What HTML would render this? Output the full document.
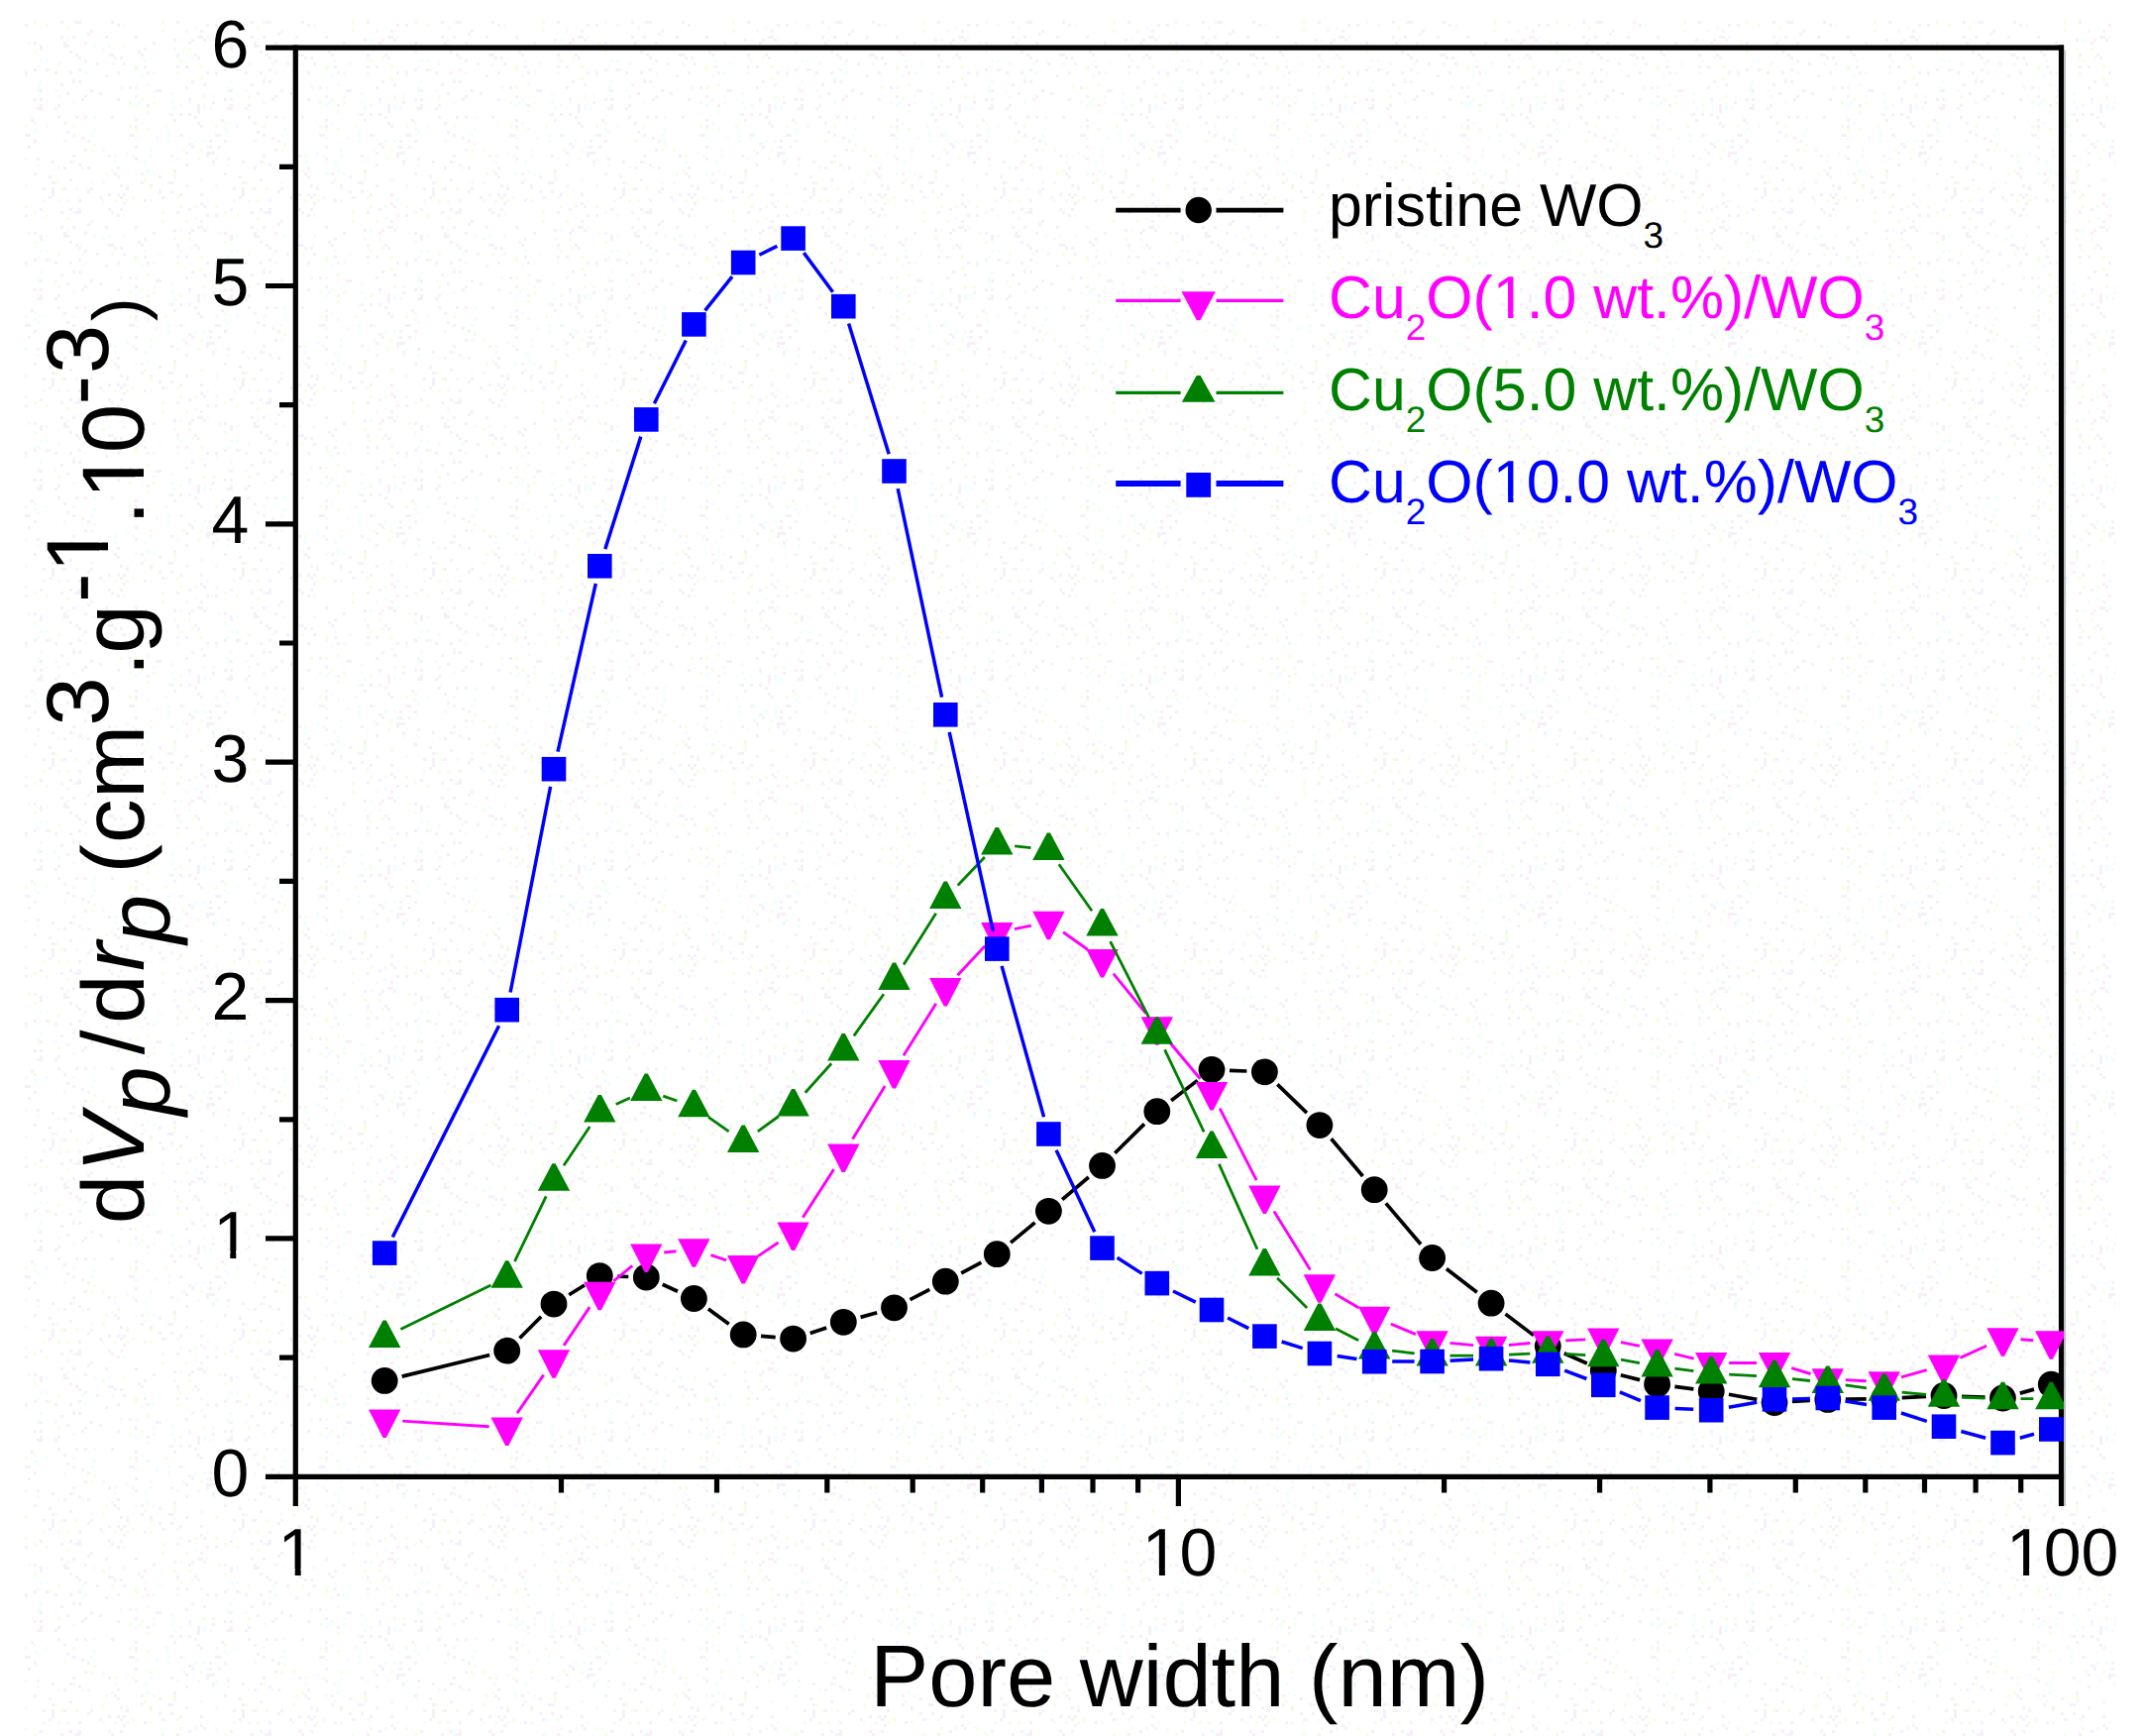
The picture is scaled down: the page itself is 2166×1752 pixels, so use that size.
<!DOCTYPE html>
<html><head><meta charset="utf-8"><title>Pore size distribution</title>
<style>html,body{margin:0;padding:0;background:#fff;width:2166px;height:1752px;overflow:hidden}</style>
</head><body>
<svg width="2166" height="1752" viewBox="0 0 2166 1752" style="display:block;position:absolute;left:0;top:0" font-family="'Liberation Sans', sans-serif" text-rendering="geometricPrecision">
<rect width="2166" height="1752" fill="#fff"/>
<defs><pattern id="dz" width="192" height="192" patternUnits="userSpaceOnUse" x="25" y="21"><rect x="9" y="0" width="3" height="3" fill="#f4ffe4"/><rect x="36" y="0" width="3" height="3" fill="#f7f0f7"/><rect x="48" y="0" width="3" height="3" fill="#eeffff"/><rect x="51" y="0" width="3" height="3" fill="#f7f0f7"/><rect x="54" y="0" width="3" height="3" fill="#f7f0f7"/><rect x="87" y="0" width="3" height="3" fill="#f7f0f7"/><rect x="138" y="0" width="3" height="3" fill="#f4ffe4"/><rect x="153" y="0" width="3" height="3" fill="#f7f0f7"/><rect x="0" y="3" width="3" height="3" fill="#f7f0f7"/><rect x="21" y="3" width="3" height="3" fill="#f4ffe4"/><rect x="93" y="3" width="3" height="3" fill="#f7f0f7"/><rect x="99" y="3" width="3" height="3" fill="#eeffff"/><rect x="183" y="3" width="3" height="3" fill="#f7f0f7"/><rect x="42" y="6" width="3" height="3" fill="#f4ffe4"/><rect x="171" y="6" width="3" height="3" fill="#eeffff"/><rect x="66" y="9" width="3" height="3" fill="#f7f0f7"/><rect x="138" y="9" width="3" height="3" fill="#f4ffe4"/><rect x="162" y="9" width="3" height="3" fill="#f4ffe4"/><rect x="177" y="9" width="3" height="3" fill="#f7f0f7"/><rect x="63" y="12" width="3" height="3" fill="#f7f0f7"/><rect x="36" y="15" width="3" height="3" fill="#f7f0f7"/><rect x="48" y="15" width="3" height="3" fill="#f7f0f7"/><rect x="81" y="15" width="3" height="3" fill="#f7f0f7"/><rect x="111" y="15" width="3" height="3" fill="#f7f0f7"/><rect x="174" y="15" width="3" height="3" fill="#f7f0f7"/><rect x="177" y="15" width="3" height="3" fill="#f7f0f7"/><rect x="183" y="15" width="3" height="3" fill="#eeffff"/><rect x="42" y="18" width="3" height="3" fill="#eeffff"/><rect x="150" y="18" width="3" height="3" fill="#f7f0f7"/><rect x="156" y="18" width="3" height="3" fill="#eeffff"/><rect x="168" y="18" width="3" height="3" fill="#f7f0f7"/><rect x="180" y="18" width="3" height="3" fill="#f7f0f7"/><rect x="3" y="21" width="3" height="3" fill="#f4ffe4"/><rect x="9" y="21" width="3" height="3" fill="#f7f0f7"/><rect x="39" y="21" width="3" height="3" fill="#f7f0f7"/><rect x="60" y="21" width="3" height="3" fill="#f7f0f7"/><rect x="129" y="21" width="3" height="3" fill="#f7f0f7"/><rect x="165" y="21" width="3" height="3" fill="#f7f0f7"/><rect x="15" y="24" width="3" height="3" fill="#f7f0f7"/><rect x="21" y="24" width="3" height="3" fill="#eeffff"/><rect x="39" y="24" width="3" height="3" fill="#f7f0f7"/><rect x="42" y="24" width="3" height="3" fill="#f7f0f7"/><rect x="69" y="24" width="3" height="3" fill="#eeffff"/><rect x="84" y="24" width="3" height="3" fill="#eeffff"/><rect x="99" y="24" width="3" height="3" fill="#f4ffe4"/><rect x="15" y="27" width="3" height="3" fill="#f7f0f7"/><rect x="78" y="27" width="3" height="3" fill="#f4ffe4"/><rect x="120" y="27" width="3" height="3" fill="#f7f0f7"/><rect x="150" y="27" width="3" height="3" fill="#f4ffe4"/><rect x="165" y="27" width="3" height="3" fill="#f4ffe4"/><rect x="9" y="30" width="3" height="3" fill="#f4ffe4"/><rect x="45" y="30" width="3" height="3" fill="#f7f0f7"/><rect x="114" y="30" width="3" height="3" fill="#f7f0f7"/><rect x="51" y="33" width="3" height="3" fill="#f7f0f7"/><rect x="84" y="33" width="3" height="3" fill="#f7f0f7"/><rect x="87" y="33" width="3" height="3" fill="#f7f0f7"/><rect x="117" y="33" width="3" height="3" fill="#f7f0f7"/><rect x="153" y="33" width="3" height="3" fill="#f7f0f7"/><rect x="171" y="33" width="3" height="3" fill="#f7f0f7"/><rect x="54" y="36" width="3" height="3" fill="#f7f0f7"/><rect x="90" y="36" width="3" height="3" fill="#f7f0f7"/><rect x="96" y="36" width="3" height="3" fill="#f7f0f7"/><rect x="153" y="36" width="3" height="3" fill="#eeffff"/><rect x="168" y="36" width="3" height="3" fill="#f4ffe4"/><rect x="174" y="36" width="3" height="3" fill="#f7f0f7"/><rect x="15" y="39" width="3" height="3" fill="#eeffff"/><rect x="21" y="39" width="3" height="3" fill="#eeffff"/><rect x="60" y="39" width="3" height="3" fill="#f7f0f7"/><rect x="120" y="39" width="3" height="3" fill="#eeffff"/><rect x="156" y="39" width="3" height="3" fill="#f4ffe4"/><rect x="33" y="42" width="3" height="3" fill="#f4ffe4"/><rect x="57" y="42" width="3" height="3" fill="#eeffff"/><rect x="72" y="42" width="3" height="3" fill="#f7f0f7"/><rect x="87" y="42" width="3" height="3" fill="#f4ffe4"/><rect x="99" y="42" width="3" height="3" fill="#f7f0f7"/><rect x="135" y="42" width="3" height="3" fill="#eeffff"/><rect x="12" y="45" width="3" height="3" fill="#eeffff"/><rect x="111" y="45" width="3" height="3" fill="#f4ffe4"/><rect x="120" y="45" width="3" height="3" fill="#f7f0f7"/><rect x="153" y="45" width="3" height="3" fill="#f7f0f7"/><rect x="162" y="45" width="3" height="3" fill="#f7f0f7"/><rect x="177" y="45" width="3" height="3" fill="#f4ffe4"/><rect x="9" y="48" width="3" height="3" fill="#f7f0f7"/><rect x="21" y="48" width="3" height="3" fill="#f7f0f7"/><rect x="24" y="48" width="3" height="3" fill="#f4ffe4"/><rect x="54" y="48" width="3" height="3" fill="#f7f0f7"/><rect x="111" y="48" width="3" height="3" fill="#f4ffe4"/><rect x="0" y="51" width="3" height="3" fill="#f7f0f7"/><rect x="30" y="51" width="3" height="3" fill="#f7f0f7"/><rect x="45" y="51" width="3" height="3" fill="#f7f0f7"/><rect x="60" y="51" width="3" height="3" fill="#eeffff"/><rect x="93" y="51" width="3" height="3" fill="#f7f0f7"/><rect x="123" y="51" width="3" height="3" fill="#f7f0f7"/><rect x="129" y="51" width="3" height="3" fill="#eeffff"/><rect x="153" y="51" width="3" height="3" fill="#f4ffe4"/><rect x="183" y="51" width="3" height="3" fill="#f7f0f7"/><rect x="0" y="54" width="3" height="3" fill="#eeffff"/><rect x="81" y="54" width="3" height="3" fill="#f7f0f7"/><rect x="117" y="54" width="3" height="3" fill="#eeffff"/><rect x="48" y="57" width="3" height="3" fill="#eeffff"/><rect x="177" y="57" width="3" height="3" fill="#f4ffe4"/><rect x="15" y="60" width="3" height="3" fill="#eeffff"/><rect x="48" y="60" width="3" height="3" fill="#f7f0f7"/><rect x="54" y="60" width="3" height="3" fill="#f7f0f7"/><rect x="168" y="60" width="3" height="3" fill="#f7f0f7"/><rect x="36" y="63" width="3" height="3" fill="#f7f0f7"/><rect x="123" y="63" width="3" height="3" fill="#f4ffe4"/><rect x="180" y="63" width="3" height="3" fill="#f7f0f7"/><rect x="12" y="66" width="3" height="3" fill="#eeffff"/><rect x="96" y="66" width="3" height="3" fill="#f4ffe4"/><rect x="105" y="66" width="3" height="3" fill="#f7f0f7"/><rect x="111" y="66" width="3" height="3" fill="#f4ffe4"/><rect x="162" y="66" width="3" height="3" fill="#f7f0f7"/><rect x="12" y="69" width="3" height="3" fill="#f4ffe4"/><rect x="15" y="69" width="3" height="3" fill="#f7f0f7"/><rect x="30" y="69" width="3" height="3" fill="#eeffff"/><rect x="66" y="69" width="3" height="3" fill="#f7f0f7"/><rect x="132" y="69" width="3" height="3" fill="#f7f0f7"/><rect x="135" y="69" width="3" height="3" fill="#f7f0f7"/><rect x="42" y="72" width="3" height="3" fill="#f7f0f7"/><rect x="75" y="72" width="3" height="3" fill="#f7f0f7"/><rect x="147" y="72" width="3" height="3" fill="#eeffff"/><rect x="33" y="75" width="3" height="3" fill="#f4ffe4"/><rect x="60" y="75" width="3" height="3" fill="#f7f0f7"/><rect x="111" y="75" width="3" height="3" fill="#f7f0f7"/><rect x="129" y="75" width="3" height="3" fill="#eeffff"/><rect x="180" y="75" width="3" height="3" fill="#f4ffe4"/><rect x="189" y="75" width="3" height="3" fill="#f4ffe4"/><rect x="9" y="78" width="3" height="3" fill="#f7f0f7"/><rect x="15" y="78" width="3" height="3" fill="#f7f0f7"/><rect x="57" y="78" width="3" height="3" fill="#f7f0f7"/><rect x="93" y="78" width="3" height="3" fill="#f7f0f7"/><rect x="117" y="78" width="3" height="3" fill="#f4ffe4"/><rect x="165" y="78" width="3" height="3" fill="#f7f0f7"/><rect x="48" y="81" width="3" height="3" fill="#eeffff"/><rect x="105" y="81" width="3" height="3" fill="#f4ffe4"/><rect x="114" y="81" width="3" height="3" fill="#eeffff"/><rect x="129" y="81" width="3" height="3" fill="#f4ffe4"/><rect x="147" y="81" width="3" height="3" fill="#eeffff"/><rect x="165" y="81" width="3" height="3" fill="#eeffff"/><rect x="189" y="81" width="3" height="3" fill="#f7f0f7"/><rect x="15" y="84" width="3" height="3" fill="#f7f0f7"/><rect x="33" y="84" width="3" height="3" fill="#f7f0f7"/><rect x="111" y="84" width="3" height="3" fill="#eeffff"/><rect x="123" y="84" width="3" height="3" fill="#f7f0f7"/><rect x="156" y="84" width="3" height="3" fill="#f4ffe4"/><rect x="174" y="84" width="3" height="3" fill="#f7f0f7"/><rect x="180" y="84" width="3" height="3" fill="#eeffff"/><rect x="12" y="87" width="3" height="3" fill="#f7f0f7"/><rect x="15" y="87" width="3" height="3" fill="#f7f0f7"/><rect x="30" y="87" width="3" height="3" fill="#f7f0f7"/><rect x="150" y="87" width="3" height="3" fill="#eeffff"/><rect x="174" y="87" width="3" height="3" fill="#f7f0f7"/><rect x="180" y="87" width="3" height="3" fill="#eeffff"/><rect x="186" y="87" width="3" height="3" fill="#eeffff"/><rect x="123" y="90" width="3" height="3" fill="#f4ffe4"/><rect x="174" y="90" width="3" height="3" fill="#f7f0f7"/><rect x="144" y="93" width="3" height="3" fill="#eeffff"/><rect x="147" y="93" width="3" height="3" fill="#f7f0f7"/><rect x="156" y="93" width="3" height="3" fill="#f7f0f7"/><rect x="165" y="93" width="3" height="3" fill="#f7f0f7"/><rect x="33" y="96" width="3" height="3" fill="#f7f0f7"/><rect x="51" y="96" width="3" height="3" fill="#f7f0f7"/><rect x="60" y="96" width="3" height="3" fill="#f7f0f7"/><rect x="69" y="96" width="3" height="3" fill="#eeffff"/><rect x="87" y="96" width="3" height="3" fill="#f7f0f7"/><rect x="171" y="96" width="3" height="3" fill="#f7f0f7"/><rect x="6" y="99" width="3" height="3" fill="#f7f0f7"/><rect x="111" y="99" width="3" height="3" fill="#f7f0f7"/><rect x="150" y="99" width="3" height="3" fill="#f7f0f7"/><rect x="9" y="102" width="3" height="3" fill="#f4ffe4"/><rect x="39" y="102" width="3" height="3" fill="#f7f0f7"/><rect x="117" y="102" width="3" height="3" fill="#eeffff"/><rect x="174" y="102" width="3" height="3" fill="#f7f0f7"/><rect x="0" y="105" width="3" height="3" fill="#f4ffe4"/><rect x="21" y="105" width="3" height="3" fill="#eeffff"/><rect x="48" y="105" width="3" height="3" fill="#f4ffe4"/><rect x="105" y="105" width="3" height="3" fill="#f4ffe4"/><rect x="111" y="105" width="3" height="3" fill="#f7f0f7"/><rect x="141" y="105" width="3" height="3" fill="#f4ffe4"/><rect x="177" y="105" width="3" height="3" fill="#f7f0f7"/><rect x="9" y="108" width="3" height="3" fill="#eeffff"/><rect x="69" y="108" width="3" height="3" fill="#eeffff"/><rect x="111" y="108" width="3" height="3" fill="#f4ffe4"/><rect x="123" y="108" width="3" height="3" fill="#f4ffe4"/><rect x="12" y="111" width="3" height="3" fill="#eeffff"/><rect x="42" y="111" width="3" height="3" fill="#f7f0f7"/><rect x="0" y="114" width="3" height="3" fill="#f7f0f7"/><rect x="3" y="114" width="3" height="3" fill="#f7f0f7"/><rect x="48" y="114" width="3" height="3" fill="#f7f0f7"/><rect x="66" y="114" width="3" height="3" fill="#eeffff"/><rect x="105" y="114" width="3" height="3" fill="#f7f0f7"/><rect x="108" y="114" width="3" height="3" fill="#f7f0f7"/><rect x="144" y="114" width="3" height="3" fill="#eeffff"/><rect x="156" y="114" width="3" height="3" fill="#f7f0f7"/><rect x="159" y="114" width="3" height="3" fill="#eeffff"/><rect x="57" y="117" width="3" height="3" fill="#f7f0f7"/><rect x="111" y="117" width="3" height="3" fill="#eeffff"/><rect x="132" y="117" width="3" height="3" fill="#eeffff"/><rect x="9" y="120" width="3" height="3" fill="#f7f0f7"/><rect x="39" y="120" width="3" height="3" fill="#f4ffe4"/><rect x="63" y="120" width="3" height="3" fill="#f7f0f7"/><rect x="144" y="120" width="3" height="3" fill="#eeffff"/><rect x="171" y="120" width="3" height="3" fill="#eeffff"/><rect x="180" y="120" width="3" height="3" fill="#eeffff"/><rect x="186" y="120" width="3" height="3" fill="#f7f0f7"/><rect x="69" y="123" width="3" height="3" fill="#f4ffe4"/><rect x="165" y="123" width="3" height="3" fill="#f7f0f7"/><rect x="168" y="123" width="3" height="3" fill="#eeffff"/><rect x="3" y="126" width="3" height="3" fill="#f7f0f7"/><rect x="111" y="126" width="3" height="3" fill="#f7f0f7"/><rect x="168" y="126" width="3" height="3" fill="#f7f0f7"/><rect x="183" y="126" width="3" height="3" fill="#eeffff"/><rect x="186" y="126" width="3" height="3" fill="#f7f0f7"/><rect x="60" y="129" width="3" height="3" fill="#f7f0f7"/><rect x="66" y="129" width="3" height="3" fill="#f4ffe4"/><rect x="78" y="129" width="3" height="3" fill="#f4ffe4"/><rect x="126" y="129" width="3" height="3" fill="#f4ffe4"/><rect x="159" y="129" width="3" height="3" fill="#f4ffe4"/><rect x="177" y="129" width="3" height="3" fill="#f4ffe4"/><rect x="102" y="132" width="3" height="3" fill="#eeffff"/><rect x="162" y="132" width="3" height="3" fill="#f7f0f7"/><rect x="183" y="132" width="3" height="3" fill="#f7f0f7"/><rect x="186" y="132" width="3" height="3" fill="#f7f0f7"/><rect x="189" y="132" width="3" height="3" fill="#f7f0f7"/><rect x="48" y="135" width="3" height="3" fill="#f7f0f7"/><rect x="84" y="135" width="3" height="3" fill="#f7f0f7"/><rect x="90" y="135" width="3" height="3" fill="#f4ffe4"/><rect x="108" y="135" width="3" height="3" fill="#f4ffe4"/><rect x="126" y="135" width="3" height="3" fill="#eeffff"/><rect x="147" y="135" width="3" height="3" fill="#f7f0f7"/><rect x="183" y="135" width="3" height="3" fill="#f7f0f7"/><rect x="0" y="138" width="3" height="3" fill="#eeffff"/><rect x="12" y="138" width="3" height="3" fill="#f7f0f7"/><rect x="111" y="138" width="3" height="3" fill="#f7f0f7"/><rect x="153" y="138" width="3" height="3" fill="#eeffff"/><rect x="174" y="138" width="3" height="3" fill="#f4ffe4"/><rect x="27" y="141" width="3" height="3" fill="#f7f0f7"/><rect x="45" y="141" width="3" height="3" fill="#f7f0f7"/><rect x="48" y="141" width="3" height="3" fill="#f4ffe4"/><rect x="90" y="141" width="3" height="3" fill="#eeffff"/><rect x="120" y="141" width="3" height="3" fill="#eeffff"/><rect x="189" y="141" width="3" height="3" fill="#f7f0f7"/><rect x="12" y="144" width="3" height="3" fill="#eeffff"/><rect x="54" y="144" width="3" height="3" fill="#f7f0f7"/><rect x="162" y="144" width="3" height="3" fill="#f7f0f7"/><rect x="189" y="144" width="3" height="3" fill="#eeffff"/><rect x="33" y="147" width="3" height="3" fill="#eeffff"/><rect x="39" y="147" width="3" height="3" fill="#f7f0f7"/><rect x="57" y="147" width="3" height="3" fill="#eeffff"/><rect x="63" y="147" width="3" height="3" fill="#f7f0f7"/><rect x="93" y="147" width="3" height="3" fill="#f7f0f7"/><rect x="87" y="150" width="3" height="3" fill="#f4ffe4"/><rect x="123" y="150" width="3" height="3" fill="#eeffff"/><rect x="150" y="150" width="3" height="3" fill="#f7f0f7"/><rect x="9" y="153" width="3" height="3" fill="#f7f0f7"/><rect x="81" y="153" width="3" height="3" fill="#f4ffe4"/><rect x="90" y="153" width="3" height="3" fill="#f7f0f7"/><rect x="111" y="153" width="3" height="3" fill="#eeffff"/><rect x="117" y="153" width="3" height="3" fill="#f7f0f7"/><rect x="129" y="153" width="3" height="3" fill="#eeffff"/><rect x="150" y="153" width="3" height="3" fill="#f4ffe4"/><rect x="24" y="156" width="3" height="3" fill="#f7f0f7"/><rect x="93" y="156" width="3" height="3" fill="#f7f0f7"/><rect x="135" y="156" width="3" height="3" fill="#f7f0f7"/><rect x="150" y="156" width="3" height="3" fill="#f4ffe4"/><rect x="45" y="159" width="3" height="3" fill="#f7f0f7"/><rect x="120" y="159" width="3" height="3" fill="#f4ffe4"/><rect x="150" y="159" width="3" height="3" fill="#eeffff"/><rect x="177" y="159" width="3" height="3" fill="#f4ffe4"/><rect x="27" y="162" width="3" height="3" fill="#f7f0f7"/><rect x="30" y="162" width="3" height="3" fill="#f4ffe4"/><rect x="66" y="162" width="3" height="3" fill="#eeffff"/><rect x="78" y="162" width="3" height="3" fill="#f4ffe4"/><rect x="117" y="162" width="3" height="3" fill="#f7f0f7"/><rect x="144" y="162" width="3" height="3" fill="#f7f0f7"/><rect x="147" y="162" width="3" height="3" fill="#f7f0f7"/><rect x="0" y="165" width="3" height="3" fill="#f4ffe4"/><rect x="96" y="165" width="3" height="3" fill="#f7f0f7"/><rect x="102" y="165" width="3" height="3" fill="#f4ffe4"/><rect x="126" y="165" width="3" height="3" fill="#f7f0f7"/><rect x="162" y="165" width="3" height="3" fill="#f7f0f7"/><rect x="18" y="168" width="3" height="3" fill="#f7f0f7"/><rect x="27" y="168" width="3" height="3" fill="#f7f0f7"/><rect x="36" y="168" width="3" height="3" fill="#f4ffe4"/><rect x="39" y="168" width="3" height="3" fill="#f7f0f7"/><rect x="51" y="168" width="3" height="3" fill="#f4ffe4"/><rect x="66" y="168" width="3" height="3" fill="#f7f0f7"/><rect x="102" y="168" width="3" height="3" fill="#f7f0f7"/><rect x="126" y="168" width="3" height="3" fill="#f4ffe4"/><rect x="27" y="171" width="3" height="3" fill="#f7f0f7"/><rect x="63" y="171" width="3" height="3" fill="#f7f0f7"/><rect x="135" y="171" width="3" height="3" fill="#f7f0f7"/><rect x="147" y="171" width="3" height="3" fill="#f7f0f7"/><rect x="27" y="174" width="3" height="3" fill="#f7f0f7"/><rect x="84" y="174" width="3" height="3" fill="#f7f0f7"/><rect x="93" y="174" width="3" height="3" fill="#f7f0f7"/><rect x="99" y="174" width="3" height="3" fill="#f7f0f7"/><rect x="156" y="174" width="3" height="3" fill="#f7f0f7"/><rect x="177" y="174" width="3" height="3" fill="#f7f0f7"/><rect x="24" y="177" width="3" height="3" fill="#f7f0f7"/><rect x="75" y="177" width="3" height="3" fill="#f7f0f7"/><rect x="96" y="177" width="3" height="3" fill="#f7f0f7"/><rect x="108" y="177" width="3" height="3" fill="#f4ffe4"/><rect x="138" y="177" width="3" height="3" fill="#f7f0f7"/><rect x="141" y="177" width="3" height="3" fill="#eeffff"/><rect x="153" y="177" width="3" height="3" fill="#f4ffe4"/><rect x="18" y="180" width="3" height="3" fill="#f4ffe4"/><rect x="33" y="180" width="3" height="3" fill="#f4ffe4"/><rect x="42" y="180" width="3" height="3" fill="#f4ffe4"/><rect x="54" y="180" width="3" height="3" fill="#f7f0f7"/><rect x="78" y="180" width="3" height="3" fill="#eeffff"/><rect x="90" y="180" width="3" height="3" fill="#f4ffe4"/><rect x="102" y="180" width="3" height="3" fill="#f4ffe4"/><rect x="120" y="180" width="3" height="3" fill="#f7f0f7"/><rect x="126" y="180" width="3" height="3" fill="#f4ffe4"/><rect x="183" y="180" width="3" height="3" fill="#eeffff"/><rect x="99" y="183" width="3" height="3" fill="#f7f0f7"/><rect x="177" y="183" width="3" height="3" fill="#f7f0f7"/><rect x="0" y="186" width="3" height="3" fill="#f4ffe4"/><rect x="156" y="186" width="3" height="3" fill="#f4ffe4"/><rect x="171" y="186" width="3" height="3" fill="#f4ffe4"/><rect x="180" y="186" width="3" height="3" fill="#f7f0f7"/><rect x="15" y="189" width="3" height="3" fill="#f7f0f7"/><rect x="45" y="189" width="3" height="3" fill="#f7f0f7"/><rect x="54" y="189" width="3" height="3" fill="#f7f0f7"/><rect x="84" y="189" width="3" height="3" fill="#f7f0f7"/><rect x="96" y="189" width="3" height="3" fill="#f7f0f7"/><rect x="165" y="189" width="3" height="3" fill="#f7f0f7"/></pattern></defs>
<rect x="25" y="21" width="2110" height="1731" fill="url(#dz)"/>
<g stroke="#000" stroke-width="5.2" fill="none" stroke-linecap="butt">
<path d="M268 48.1H2083.1"/>
<path d="M268 1490.3H2083.1"/>
<path d="M298.3 45.5V1520"/>
<path d="M2080.5 45.5V1520"/>
<path d="M2084.1 50.7V1520" stroke="#8e959c" stroke-width="2" stroke-opacity="0.55"/>
<path d="M282 168.3H298.3M268 288.5H298.3M282 408.7H298.3M268 528.8H298.3M282 649.0H298.3M268 769.2H298.3M282 889.4H298.3M268 1009.6H298.3M282 1129.8H298.3M268 1249.9H298.3M282 1370.1H298.3"/>
<path d="M566.5 1490.3V1506.5M723.5 1490.3V1506.5M834.8 1490.3V1506.5M921.2 1490.3V1506.5M991.7 1490.3V1506.5M1051.4 1490.3V1506.5M1103.0 1490.3V1506.5M1148.6 1490.3V1506.5M1457.6 1490.3V1506.5M1614.6 1490.3V1506.5M1725.9 1490.3V1506.5M1812.3 1490.3V1506.5M1882.8 1490.3V1506.5M1942.5 1490.3V1506.5M1994.1 1490.3V1506.5M2039.7 1490.3V1506.5M1189.4 1490.3V1520"/>
</g>
<g font-size="68" fill="#000">
<g transform="translate(251.3 67.7) scale(1 1.0)"><text text-anchor="end">6</text></g>
<g transform="translate(251.3 308.1) scale(1 1.0)"><text text-anchor="end">5</text></g>
<g transform="translate(251.3 548.4) scale(1 1.0)"><text text-anchor="end">4</text></g>
<g transform="translate(251.3 788.8) scale(1 1.0)"><text text-anchor="end">3</text></g>
<g transform="translate(251.3 1029.2) scale(1 1.0)"><text text-anchor="end">2</text></g>
<g transform="translate(253.0 1269.5) scale(1 1.0)"><text text-anchor="end">1</text><rect x="-34.13" y="-7.08" width="13.42" height="8.58" fill="#fff"/><rect x="-14.70" y="-7.08" width="12.89" height="8.58" fill="#fff"/></g>
<g transform="translate(251.3 1509.9) scale(1 1.0)"><text text-anchor="end">0</text></g>
<g transform="translate(299.5 1590.3) scale(1 1.0)"><text text-anchor="middle">1</text><rect x="-15.22" y="-7.08" width="13.42" height="8.58" fill="#fff"/><rect x="4.21" y="-7.08" width="12.89" height="8.58" fill="#fff"/></g>
<g transform="translate(1190.6 1590.3) scale(1 1.0)"><text text-anchor="middle">10</text><rect x="-34.13" y="-7.08" width="13.42" height="8.58" fill="#fff"/><rect x="-14.70" y="-7.08" width="12.89" height="8.58" fill="#fff"/></g>
<g transform="translate(2081.7 1590.3) scale(1 1.0)"><text text-anchor="middle">100</text><rect x="-53.03" y="-7.08" width="13.42" height="8.58" fill="#fff"/><rect x="-33.60" y="-7.08" width="12.89" height="8.58" fill="#fff"/></g>
</g>
<text x="1190.6" y="1722.3" font-size="88.5" text-anchor="middle" fill="#000">Pore width (nm)</text>
<g font-size="89" fill="#000" text-anchor="middle">
<g transform="translate(145.0 1210.4) rotate(-90)"><text>d</text></g>
<g transform="translate(145.0 1153.4) rotate(-90)"><text font-style="italic">V</text></g>
<g transform="translate(171.0 1100.9) rotate(-90)"><text font-style="italic">p</text></g>
<g transform="translate(145.0 1051.8) rotate(-90)"><text>/</text></g>
<g transform="translate(145.0 1008.3) rotate(-90)"><text>d</text></g>
<g transform="translate(145.0 965.2) rotate(-90)"><text font-style="italic">r</text></g>
<g transform="translate(171.0 927.6) rotate(-90)"><text font-style="italic">p</text></g>
<g transform="translate(145.0 866.8) rotate(-90)"><text>(</text></g>
<g transform="translate(145.0 828.7) rotate(-90)"><text>c</text></g>
<g transform="translate(145.0 769.0) rotate(-90)"><text>m</text></g>
<g transform="translate(109.4 708.0) rotate(-90)"><text>3</text></g>
<g transform="translate(145.0 670.2) rotate(-90)"><text>.</text></g>
<g transform="translate(145.0 635.0) rotate(-90)"><text>g</text></g>
<g transform="translate(109.4 593.3) rotate(-90)"><text>-</text></g>
<g transform="translate(109.4 553.0) rotate(-90)"><text>1</text><rect x="-19.46" y="-8.65" width="17.10" height="10.15" fill="#fff"/><rect x="5.50" y="-8.65" width="16.41" height="10.15" fill="#fff"/></g>
<g transform="translate(145.0 517.6) rotate(-90)"><text>.</text></g>
<g transform="translate(145.0 478.7) rotate(-90)"><text>1</text><rect x="-19.46" y="-8.65" width="17.10" height="10.15" fill="#fff"/><rect x="5.50" y="-8.65" width="16.41" height="10.15" fill="#fff"/></g>
<g transform="translate(145.0 432.4) rotate(-90)"><text>0</text></g>
<g transform="translate(109.4 393.6) rotate(-90)"><text>-</text></g>
<g transform="translate(109.4 352.4) rotate(-90)"><text>3</text></g>
<g transform="translate(144 312.3) rotate(-90)"><text font-size="72">)</text></g>
</g>
<clipPath id="pc"><rect x="295.7" y="45.5" width="1787.3999999999999" height="1447.4"/></clipPath>
<g clip-path="url(#pc)">
<path d="M405.7 1389.1L494.2 1367.5M524.5 1350.5L546.2 1328.8M574.3 1306.7L590.0 1297.0M623.3 1288.1L634.3 1288.5M668.7 1296.3L684.0 1303.2M714.9 1321.1L735.7 1336.3M768.1 1348.4L782.7 1349.6M817.7 1345.4L834.2 1340.0M868.6 1329.4L885.2 1324.7M918.5 1311.6L938.3 1301.4M970.2 1284.8L990.4 1274.1M1020.1 1254.2L1044.6 1233.8M1072.1 1210.7L1098.8 1188.0M1125.3 1163.7L1155.0 1134.4M1182.1 1110.8L1208.7 1090.4M1241.0 1080.3L1258.4 1081.0M1289.3 1094.3L1319.0 1123.1M1343.6 1149.3L1375.5 1187.0M1398.8 1214.4L1434.0 1255.8M1459.9 1280.5L1490.8 1304.2M1519.5 1326.1L1547.9 1347.6M1578.8 1365.8L1601.8 1376.0M1635.8 1387.7L1655.1 1392.6M1690.4 1399.4L1709.4 1401.8M1744.9 1407.3L1773.3 1412.4M1809.0 1414.5L1826.8 1413.4M1862.8 1412.1L1883.7 1411.8M1919.7 1410.6L1944.0 1409.4M1980.0 1409.3L2003.5 1410.2M2038.8 1406.1L2053.0 1402.1" stroke="#000" stroke-width="3.7" fill="none"/>
<g fill="#000"><circle cx="388.2" cy="1393.4" r="13.4"/><circle cx="511.7" cy="1363.2" r="13.4"/><circle cx="559" cy="1316.1" r="13.4"/><circle cx="605.3" cy="1287.6" r="13.4"/><circle cx="652.3" cy="1289" r="13.4"/><circle cx="700.4" cy="1310.5" r="13.4"/><circle cx="750.2" cy="1346.9" r="13.4"/><circle cx="800.6" cy="1351.1" r="13.4"/><circle cx="851.3" cy="1334.3" r="13.4"/><circle cx="902.5" cy="1319.8" r="13.4"/><circle cx="954.3" cy="1293.2" r="13.4"/><circle cx="1006.3" cy="1265.7" r="13.4"/><circle cx="1058.4" cy="1222.3" r="13.4"/><circle cx="1112.5" cy="1176.4" r="13.4"/><circle cx="1167.8" cy="1121.7" r="13.4"/><circle cx="1223" cy="1079.5" r="13.4"/><circle cx="1276.4" cy="1081.8" r="13.4"/><circle cx="1331.9" cy="1135.6" r="13.4"/><circle cx="1387.2" cy="1200.7" r="13.4"/><circle cx="1445.6" cy="1269.5" r="13.4"/><circle cx="1505.1" cy="1315.2" r="13.4"/><circle cx="1562.3" cy="1358.5" r="13.4"/><circle cx="1618.3" cy="1383.3" r="13.4"/><circle cx="1672.6" cy="1397" r="13.4"/><circle cx="1727.2" cy="1404.2" r="13.4"/><circle cx="1791" cy="1415.5" r="13.4"/><circle cx="1844.8" cy="1412.4" r="13.4"/><circle cx="1901.7" cy="1411.5" r="13.4"/><circle cx="1962" cy="1408.5" r="13.4"/><circle cx="2021.5" cy="1411" r="13.4"/><circle cx="2070.3" cy="1397.2" r="13.4"/></g>
<path d="M406.2 1434.1L493.7 1439.8M522.0 1426.1L548.7 1387.6M569.1 1357.9L595.2 1319.1M619.3 1292.8L638.3 1277.3M670.2 1264.0L682.5 1262.7M717.5 1266.6L733.1 1271.8M765.2 1267.6L785.6 1254.0M810.3 1228.8L841.6 1180.1M860.6 1149.5L893.2 1096.0M912.0 1065.3L944.8 1012.8M966.5 984.3L994.1 954.7M1023.9 937.7L1040.8 934.1M1073.1 940.7L1097.8 958.2M1123.8 982.6L1156.5 1022.7M1179.4 1050.5L1211.4 1088.8M1231.2 1118.6L1268.2 1191.1M1285.9 1222.4L1322.4 1281.4M1347.4 1305.8L1371.7 1320.1M1403.8 1336.2L1429.0 1346.7M1463.5 1355.4L1487.2 1357.6M1523.0 1357.5L1544.4 1355.5M1580.3 1352.9L1600.3 1351.9M1636.0 1354.6L1654.9 1358.4M1690.1 1366.3L1709.7 1371.1M1745.2 1375.5L1773.0 1375.5M1808.2 1380.7L1827.6 1386.5M1862.8 1392.6L1883.7 1393.8M1919.0 1389.9L1944.7 1382.7M1978.4 1370.4L2005.1 1358.2M2039.5 1351.8L2052.3 1352.7" stroke="#f0f" stroke-width="2.9" fill="none"/>
<g fill="#f0f"><path d="M372.0 1422.5h32.4L389.8 1451.0h-3.2z"/><path d="M495.5 1430.4h32.4L513.3 1458.9h-3.2z"/><path d="M542.8 1362.3h32.4L560.6 1390.8h-3.2z"/><path d="M589.1 1293.7h32.4L606.9 1322.2h-3.2z"/><path d="M636.1 1255.4h32.4L653.9 1283.9h-3.2z"/><path d="M684.2 1250.3h32.4L702.0 1278.8h-3.2z"/><path d="M734.0 1267.1h32.4L751.8 1295.6h-3.2z"/><path d="M784.4 1233.5h32.4L802.2 1262.0h-3.2z"/><path d="M835.1 1154.4h32.4L852.9 1182.9h-3.2z"/><path d="M886.3 1070.1h32.4L904.1 1098.6h-3.2z"/><path d="M938.1 987.0h32.4L955.9 1015.5h-3.2z"/><path d="M990.1 931.0h32.4L1007.9 959.5h-3.2z"/><path d="M1042.2 919.8h32.4L1060.0 948.3h-3.2z"/><path d="M1096.3 958.1h32.4L1114.1 986.6h-3.2z"/><path d="M1151.6 1026.2h32.4L1169.4 1054.7h-3.2z"/><path d="M1206.8 1092.1h32.4L1224.6 1120.6h-3.2z"/><path d="M1260.2 1196.6h32.4L1278.0 1225.1h-3.2z"/><path d="M1315.7 1286.2h32.4L1333.5 1314.7h-3.2z"/><path d="M1371.0 1318.7h32.4L1388.8 1347.2h-3.2z"/><path d="M1429.4 1343.2h32.4L1447.2 1371.7h-3.2z"/><path d="M1488.9 1348.8h32.4L1506.7 1377.3h-3.2z"/><path d="M1546.1 1343.2h32.4L1563.9 1371.7h-3.2z"/><path d="M1602.1 1340.6h32.4L1619.9 1369.1h-3.2z"/><path d="M1656.4 1351.4h32.4L1674.2 1379.9h-3.2z"/><path d="M1711.0 1365.0h32.4L1728.8 1393.5h-3.2z"/><path d="M1774.8 1365.0h32.4L1792.6 1393.5h-3.2z"/><path d="M1828.6 1381.2h32.4L1846.4 1409.7h-3.2z"/><path d="M1885.5 1384.2h32.4L1903.3 1412.7h-3.2z"/><path d="M1945.8 1367.4h32.4L1963.6 1395.9h-3.2z"/><path d="M2005.3 1340.2h32.4L2023.1 1368.7h-3.2z"/><path d="M2054.1 1343.3h32.4L2071.9 1371.8h-3.2z"/></g>
<path d="M404.4 1341.5L495.5 1297.1M519.5 1273.0L551.2 1207.4M569.0 1176.2L595.3 1137.0M621.7 1114.5L635.9 1107.9M669.3 1106.2L683.4 1111.0M715.0 1127.3L735.6 1141.9M764.8 1141.9L786.0 1126.5M812.7 1102.7L839.2 1073.3M861.8 1045.4L892.0 1003.2M912.1 973.4L944.7 921.7M966.7 893.5L993.9 865.0M1024.2 853.9L1040.5 855.6M1068.8 872.2L1102.1 919.3M1120.6 950.1L1159.7 1027.1M1175.6 1059.4L1215.2 1142.3M1230.4 1174.9L1269.0 1260.7M1289.1 1289.8L1319.2 1319.9M1347.9 1340.8L1371.2 1352.8M1405.1 1363.2L1427.7 1365.9M1463.6 1368.1L1487.1 1368.1M1523.1 1367.2L1544.3 1366.2M1580.3 1366.4L1600.3 1367.7M1636.0 1372.1L1654.9 1375.6M1690.4 1381.2L1709.4 1383.7M1745.2 1387.1L1773.0 1388.7M1808.9 1391.7L1826.9 1393.5M1862.6 1397.9L1883.9 1400.8M1919.6 1405.1L1944.1 1407.5M1980.0 1410.0L2003.5 1411.0M2039.5 1411.7L2052.3 1411.7" stroke="#008000" stroke-width="2.8" fill="none"/>
<g fill="#008000"><path d="M372.0 1359.9h32.4L389.8 1332.4h-3.2z"/><path d="M495.5 1299.7h32.4L513.3 1272.2h-3.2z"/><path d="M542.8 1201.7h32.4L560.6 1174.2h-3.2z"/><path d="M589.1 1132.5h32.4L606.9 1105.0h-3.2z"/><path d="M636.1 1110.9h32.4L653.9 1083.4h-3.2z"/><path d="M684.2 1127.3h32.4L702.0 1099.8h-3.2z"/><path d="M734.0 1162.9h32.4L751.8 1135.4h-3.2z"/><path d="M784.4 1126.5h32.4L802.2 1099.0h-3.2z"/><path d="M835.1 1070.5h32.4L852.9 1043.0h-3.2z"/><path d="M886.3 999.1h32.4L904.1 971.6h-3.2z"/><path d="M938.1 917.0h32.4L955.9 889.5h-3.2z"/><path d="M990.1 862.5h32.4L1007.9 835.0h-3.2z"/><path d="M1042.2 868.0h32.4L1060.0 840.5h-3.2z"/><path d="M1096.3 944.5h32.4L1114.1 917.0h-3.2z"/><path d="M1151.6 1053.7h32.4L1169.4 1026.2h-3.2z"/><path d="M1206.8 1169.0h32.4L1224.6 1141.5h-3.2z"/><path d="M1260.2 1287.6h32.4L1278.0 1260.1h-3.2z"/><path d="M1315.7 1343.1h32.4L1333.5 1315.6h-3.2z"/><path d="M1371.0 1371.5h32.4L1388.8 1344.0h-3.2z"/><path d="M1429.4 1378.6h32.4L1447.2 1351.1h-3.2z"/><path d="M1488.9 1378.6h32.4L1506.7 1351.1h-3.2z"/><path d="M1546.1 1375.8h32.4L1563.9 1348.3h-3.2z"/><path d="M1602.1 1379.3h32.4L1619.9 1351.8h-3.2z"/><path d="M1656.4 1389.4h32.4L1674.2 1361.9h-3.2z"/><path d="M1711.0 1396.5h32.4L1728.8 1369.0h-3.2z"/><path d="M1774.8 1400.3h32.4L1792.6 1372.8h-3.2z"/><path d="M1828.6 1405.9h32.4L1846.4 1378.4h-3.2z"/><path d="M1885.5 1413.8h32.4L1903.3 1386.3h-3.2z"/><path d="M1945.8 1419.8h32.4L1963.6 1392.3h-3.2z"/><path d="M2005.3 1422.2h32.4L2023.1 1394.7h-3.2z"/><path d="M2054.1 1422.2h32.4L2071.9 1394.7h-3.2z"/></g>
<path d="M396.3 1248.5L503.6 1035.3M515.1 1001.5L555.6 793.9M563.0 758.6L601.3 588.9M610.8 554.1L646.8 440.6M660.4 407.3L692.3 343.5M711.6 313.3L739.0 279.1M766.4 257.2L784.4 248.4M811.3 255.1L840.6 294.7M856.6 326.4L897.2 458.3M906.2 493.1L950.6 703.7M958.2 738.9L1002.4 940.0M1011.1 974.9L1053.6 1127.2M1066.1 1160.8L1104.8 1243.3M1127.6 1269.3L1152.7 1285.4M1184.0 1303.0L1206.8 1314.1M1239.1 1330.0L1260.3 1340.6M1293.6 1354.0L1314.7 1360.6M1349.7 1368.6L1369.4 1371.6M1405.2 1374.1L1427.6 1374.1M1463.6 1373.2L1487.1 1372.0M1523.0 1373.0L1544.4 1375.0M1579.2 1383.1L1601.4 1391.5M1634.9 1404.8L1656.0 1413.6M1690.6 1421.5L1709.2 1422.3M1744.9 1420.2L1773.3 1415.3M1809.0 1411.9L1826.8 1411.4M1862.5 1414.0L1884.0 1417.6M1918.9 1426.0L1944.8 1434.3M1979.4 1444.5L2004.1 1451.3M2038.8 1451.3L2053.0 1447.3" stroke="#00f" stroke-width="3.5" fill="none"/>
<g fill="#00f"><rect x="375.9" y="1252.3" width="24.6" height="24.6"/><rect x="499.4" y="1006.9" width="24.6" height="24.6"/><rect x="546.7" y="763.9" width="24.6" height="24.6"/><rect x="593.0" y="559.0" width="24.6" height="24.6"/><rect x="640.0" y="411.1" width="24.6" height="24.6"/><rect x="688.1" y="315.1" width="24.6" height="24.6"/><rect x="737.9" y="252.7" width="24.6" height="24.6"/><rect x="788.3" y="228.3" width="24.6" height="24.6"/><rect x="839.0" y="296.9" width="24.6" height="24.6"/><rect x="890.2" y="463.2" width="24.6" height="24.6"/><rect x="942.0" y="709.0" width="24.6" height="24.6"/><rect x="994.0" y="945.3" width="24.6" height="24.6"/><rect x="1046.1" y="1132.2" width="24.6" height="24.6"/><rect x="1100.2" y="1247.3" width="24.6" height="24.6"/><rect x="1155.5" y="1282.8" width="24.6" height="24.6"/><rect x="1210.7" y="1309.7" width="24.6" height="24.6"/><rect x="1264.1" y="1336.3" width="24.6" height="24.6"/><rect x="1319.6" y="1353.7" width="24.6" height="24.6"/><rect x="1374.9" y="1361.9" width="24.6" height="24.6"/><rect x="1433.3" y="1361.7" width="24.6" height="24.6"/><rect x="1492.8" y="1358.9" width="24.6" height="24.6"/><rect x="1550.0" y="1364.5" width="24.6" height="24.6"/><rect x="1606.0" y="1385.5" width="24.6" height="24.6"/><rect x="1660.3" y="1408.3" width="24.6" height="24.6"/><rect x="1714.9" y="1410.9" width="24.6" height="24.6"/><rect x="1778.7" y="1400.0" width="24.6" height="24.6"/><rect x="1832.5" y="1398.7" width="24.6" height="24.6"/><rect x="1889.4" y="1408.3" width="24.6" height="24.6"/><rect x="1949.7" y="1427.4" width="24.6" height="24.6"/><rect x="2009.2" y="1443.8" width="24.6" height="24.6"/><rect x="2058.0" y="1430.2" width="24.6" height="24.6"/></g>
</g>
<path d="M1126.2 212.2H1191.6M1227.5 212.2H1295.4" stroke="#000" stroke-width="4.7"/>
<path d="M1126.2 303.4H1191.6M1227.5 303.4H1295.4" stroke="#f0f" stroke-width="3.4"/>
<path d="M1126.2 396.3H1191.6M1227.5 396.3H1295.4" stroke="#008000" stroke-width="3.2"/>
<path d="M1126.2 488.0H1191.6M1227.5 488.0H1295.4" stroke="#00f" stroke-width="5.9"/>
<circle cx="1209.7" cy="212" r="13.2" fill="#000"/>
<path d="M1192.5 294.2h34.4L1211.45 323.2h-3.5z" fill="#f0f"/>
<path d="M1192.9 405.8h33.6L1211.7 378.9h-4z" fill="#008000"/>
<rect x="1197.3" y="477" width="24.8" height="24.8" fill="#00f"/>
<g font-size="60.8">
<text x="1341" y="228" fill="#000">pristine WO<tspan font-size="37" dy="22">3</tspan></text>
<text x="1341" y="321" fill="#f0f">Cu<tspan font-size="37" dy="22">2</tspan><tspan dy="-22">O(1.0 wt.%)/WO</tspan><tspan font-size="37" dy="22">3</tspan></text>
<rect x="1509.95" y="314.46" width="12.16" height="8.04" fill="#fff"/><rect x="1527.49" y="314.46" width="11.68" height="8.04" fill="#fff"/>
<text x="1341" y="414.2" fill="#008000">Cu<tspan font-size="37" dy="22">2</tspan><tspan dy="-22">O(5.0 wt.%)/WO</tspan><tspan font-size="37" dy="22">3</tspan></text>
<text x="1341" y="507" fill="#00f">Cu<tspan font-size="37" dy="22">2</tspan><tspan dy="-22">O(10.0 wt.%)/WO</tspan><tspan font-size="37" dy="22">3</tspan></text>
<rect x="1509.95" y="500.46" width="12.16" height="8.04" fill="#fff"/><rect x="1527.49" y="500.46" width="11.68" height="8.04" fill="#fff"/>
</g>
</svg>
</body></html>
